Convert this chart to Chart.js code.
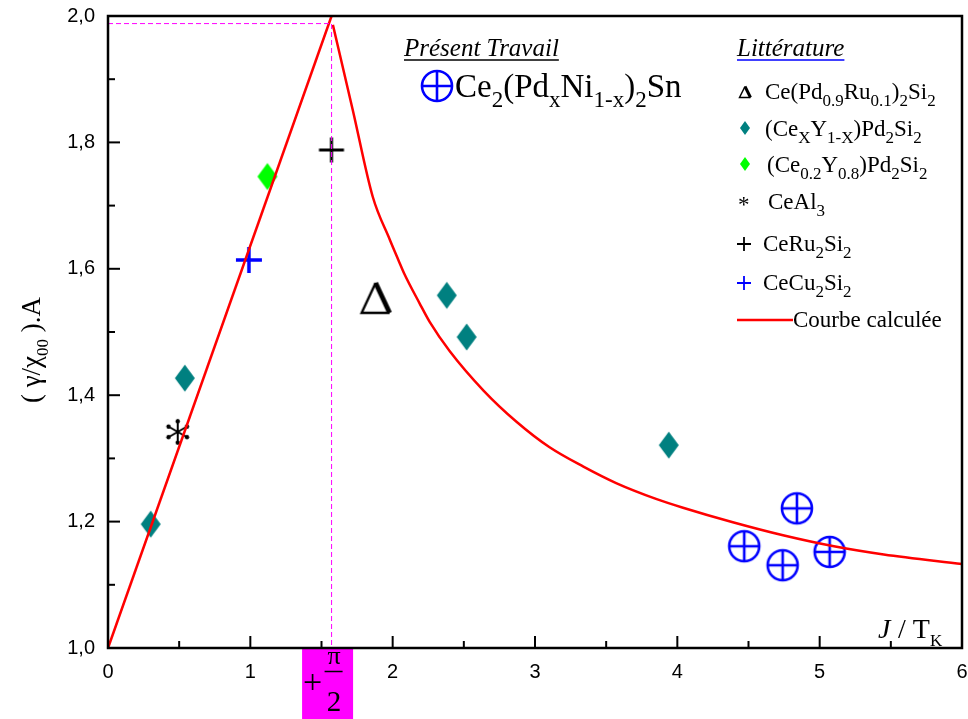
<!DOCTYPE html>
<html>
<head>
<meta charset="utf-8">
<script src="https://cdn.jsdelivr.net/npm/chart.js@4.4.0/dist/chart.umd.min.js"></script>
<style>
  html, body { margin: 0; padding: 0; background: #fff; }
</style>
</head>
<body>
<canvas id="chart" width="968" height="719"></canvas>
<script>
// --- Données : présent travail ---
const presentX = [4.47, 4.74, 4.84, 5.07];
const presentY = [1.161, 1.131, 1.221, 1.152];

// --- Données : littérature ---
const pdRuX = [1.88];
const pdRuY = [1.554];
const ceYX = [0.30, 0.54, 2.38, 2.52, 3.94];
const ceYY = [1.196, 1.427, 1.558, 1.492, 1.321];
const ce02X = [1.12];
const ce02Y = [1.746];
const ceAlX = [0.49];
const ceAlY = [1.342];
const ceRuX = [1.57];
const ceRuY = [1.788];
const ceCuX = [0.99];
const ceCuY = [1.614];

// --- Courbe calculée (branche montante + branche descendante) ---
const montanteX = [0, 1.5708];
const montanteY = [1.0, 2.0];
const descX = [1.58, 1.72, 1.86, 1.98, 2.04, 2.08, 2.19, 2.26, 2.40, 2.64, 2.87, 3.10, 3.34, 3.57, 3.85, 4.04, 4.39, 4.75, 5.10, 5.45, 6.0];
const descY = [1.986, 1.851, 1.714, 1.646, 1.614, 1.593, 1.545, 1.516, 1.470, 1.407, 1.358, 1.318, 1.287, 1.261, 1.236, 1.222, 1.199, 1.178, 1.161, 1.148, 1.133];

// repères pointillés (J/Tk = pi/2)
const repereX = [0, 1.5708, 1.5708];
const repereY = [1.988, 1.988, 1.0];

// ticks
const xTicks = [0, 1, 2, 3, 4, 5, 6];
const yTicks = [1.0, 1.2, 1.4, 1.6, 1.8, 2.0];

const pts = (xs, ys) => xs.map((x, i) => ({ x: x, y: ys[i] }));

// --- symboles dessinés sur canvas ---
function marqueur(w, h, dessin) {
    const c = document.createElement('canvas');
    c.width = w; c.height = h;
    dessin(c.getContext('2d'), w, h);
    return c;
}

function dessineCerclePlus(g, cx, cy, r, lw) {
    g.strokeStyle = '#0000ff';
    g.lineWidth = lw;
    g.beginPath(); g.arc(cx, cy, r, 0, Math.PI * 2); g.stroke();
    g.beginPath();
    g.moveTo(cx - r, cy); g.lineTo(cx + r, cy);
    g.moveTo(cx, cy - r); g.lineTo(cx, cy + r);
    g.stroke();
}
function dessineLosange(g, cx, cy, w, h, col) {
    g.fillStyle = col;
    g.beginPath();
    g.moveTo(cx, cy - h / 2); g.lineTo(cx + w / 2, cy);
    g.lineTo(cx, cy + h / 2); g.lineTo(cx - w / 2, cy);
    g.closePath(); g.fill();
}
function dessinePlus(g, cx, cy, r, lw, col) {
    g.strokeStyle = col; g.lineWidth = lw;
    g.beginPath();
    g.moveTo(cx - r, cy); g.lineTo(cx + r, cy);
    g.moveTo(cx, cy - r); g.lineTo(cx, cy + r);
    g.stroke();
}
function dessineDelta(g, cx, cy, w, h, lw) {
    g.strokeStyle = '#000'; g.lineJoin = 'miter';
    const top = cy - h / 2, bot = cy + h / 2;
    g.lineWidth = lw * 0.8;
    g.beginPath();
    g.moveTo(cx, top); g.lineTo(cx - w / 2, bot); g.lineTo(cx + w / 2, bot);
    g.stroke();
    g.lineWidth = lw * 1.6;
    g.beginPath();
    g.moveTo(cx + w / 2, bot); g.lineTo(cx, top);
    g.stroke();
}
function dessineEtoile(g, cx, cy, r, lw) {
    g.strokeStyle = '#000'; g.fillStyle = '#000'; g.lineWidth = lw;
    [90, 30, -30].forEach(a => {
        const dx = Math.cos(a * Math.PI / 180) * r, dy = Math.sin(a * Math.PI / 180) * r;
        g.beginPath(); g.moveTo(cx - dx, cy - dy); g.lineTo(cx + dx, cy + dy); g.stroke();
        g.beginPath(); g.arc(cx + dx * 0.85, cy + dy * 0.85, lw * 1.1, 0, Math.PI * 2); g.fill();
        g.beginPath(); g.arc(cx - dx * 0.85, cy - dy * 0.85, lw * 1.1, 0, Math.PI * 2); g.fill();
    });
}

const mCerclePlus = marqueur(36, 36, (g) => dessineCerclePlus(g, 18, 18, 15, 2.6));
const mLosangeBleu = marqueur(22, 30, (g) => dessineLosange(g, 11, 15, 20, 27, '#008080'));
const mLosangeVert = marqueur(22, 30, (g) => dessineLosange(g, 11, 15, 20, 27, '#00ff00'));
const mPlusNoir = marqueur(30, 30, (g) => dessinePlus(g, 15, 15, 12.5, 3, '#000'));
const mPlusBleu = marqueur(30, 30, (g) => dessinePlus(g, 15, 15, 13, 3.5, '#0000ff'));
const mDelta = marqueur(36, 36, (g) => dessineDelta(g, 18, 18, 28, 30, 3));
const mEtoile = marqueur(30, 30, (g) => dessineEtoile(g, 15, 15, 12.5, 2));

// texte avec indices
function texteRiche(ctx, x, y, parts, taille, tailleSub, align) {
    const fN = taille + 'px "Liberation Serif"';
    const fS = tailleSub + 'px "Liberation Serif"';
    let w = 0;
    parts.forEach(([t, sub]) => { ctx.font = sub ? fS : fN; w += ctx.measureText(t).width; });
    let cx = align === 'center' ? x - w / 2 : x;
    ctx.textAlign = 'left';
    ctx.textBaseline = 'alphabetic';
    parts.forEach(([t, sub]) => {
        ctx.font = sub ? fS : fN;
        ctx.fillText(t, cx, sub ? y + taille * 0.3 : y);
        cx += ctx.measureText(t).width;
    });
    return w;
}

function titreSouligne(ctx, txt, x, y) {
    ctx.font = 'italic 25px "Liberation Serif"';
    ctx.textAlign = 'left'; ctx.textBaseline = 'alphabetic';
    ctx.fillText(txt, x, y);
    const w = ctx.measureText(txt).width;
    ctx.lineWidth = 1.5;
    ctx.beginPath(); ctx.moveTo(x, y + 4); ctx.lineTo(x + w, y + 4); ctx.stroke();
}

// cadre, graduations internes, titres, légende
const habillage = {
    id: 'habillage',
    afterDraw(chart) {
        const ctx = chart.ctx;
        const xs = chart.scales.x, ys = chart.scales.y;
        const a = chart.chartArea;
        ctx.save();
        ctx.strokeStyle = '#000';
        ctx.fillStyle = '#000';

        // case magenta pour pi/2
        const px = xs.getPixelForValue(Math.PI / 2);
        ctx.fillStyle = '#ff00ff';
        ctx.fillRect(px - 29.5, a.bottom, 51, 719 - a.bottom);
        ctx.fillStyle = '#000';
        ctx.textAlign = 'center'; ctx.textBaseline = 'middle';
        ctx.font = '34px "Liberation Serif"';
        ctx.fillText('+', px - 19, 684);
        ctx.font = '26px "Liberation Serif"';
        ctx.fillText('\u03c0', px + 2.5, 657);
        ctx.font = '29px "Liberation Serif"';
        ctx.fillText('2', px + 2.5, 703);
        ctx.lineWidth = 1.5;
        ctx.beginPath(); ctx.moveTo(px - 7, 671.5); ctx.lineTo(px + 11, 671.5); ctx.stroke();

        // graduations vers l'intérieur
        ctx.lineWidth = 2;
        for (let v = 0; v <= 6.001; v += 0.5) {
            const p = xs.getPixelForValue(v);
            const L = Math.abs(v - Math.round(v)) < 1e-6 ? 12 : 7;
            ctx.beginPath(); ctx.moveTo(p, a.bottom); ctx.lineTo(p, a.bottom - L); ctx.stroke();
        }
        for (let i = 0; i <= 10; i++) {
            const v = 1 + i * 0.1;
            const p = ys.getPixelForValue(v);
            const L = i % 2 === 0 ? 12 : 7;
            ctx.beginPath(); ctx.moveTo(a.left, p); ctx.lineTo(a.left + L, p); ctx.stroke();
        }

        // cadre
        ctx.lineWidth = 2.5;
        ctx.strokeRect(a.left, a.top, a.right - a.left, a.bottom - a.top);

        // titre axe Y
        ctx.save();
        ctx.translate(31, 350);
        ctx.rotate(-Math.PI / 2);
        texteRiche(ctx, 0, 9, [['( \u03b3/\u03c7'], ['00', 1], [' ).A']], 27, 17, 'center');
        ctx.restore();

        // titre axe X
        ctx.font = 'italic 28px "Liberation Serif"';
        ctx.textAlign = 'left'; ctx.textBaseline = 'alphabetic';
        ctx.fillText('J', 878, 638);
        texteRiche(ctx, 898, 638, [['/ T'], ['K', 1]], 28, 17, 'left');

        // légende : présent travail
        titreSouligne(ctx, 'Présent Travail', 404, 56);
        dessineCerclePlus(ctx, 437, 86, 15, 2.6);
        ctx.fillStyle = '#000';
        texteRiche(ctx, 455, 97, [['Ce'], ['2', 1], ['(Pd'], ['x', 1], ['Ni'], ['1-x', 1], [')'], ['2', 1], ['Sn']], 33, 23, 'left');

        // légende : littérature
        titreSouligne(ctx, 'Littérature', 737, 56);
        const sz = 23, ss = 17;
        dessineDelta(ctx, 745, 92, 11, 11, 1.8);
        texteRiche(ctx, 765, 99, [['Ce(Pd'], ['0.9', 1], ['Ru'], ['0.1', 1], [')'], ['2', 1], ['Si'], ['2', 1]], sz, ss, 'left');
        dessineLosange(ctx, 745, 128, 10, 14, '#008080');
        ctx.fillStyle = '#000';
        texteRiche(ctx, 765, 136, [['(Ce'], ['X', 1], ['Y'], ['1-X', 1], [')Pd'], ['2', 1], ['Si'], ['2', 1]], sz, ss, 'left');
        dessineLosange(ctx, 745, 164, 10, 14, '#00ff00');
        ctx.fillStyle = '#000';
        texteRiche(ctx, 767, 172, [['(Ce'], ['0.2', 1], ['Y'], ['0.8', 1], [')Pd'], ['2', 1], ['Si'], ['2', 1]], sz, ss, 'left');
        ctx.font = '23px "Liberation Serif"';
        ctx.fillText('*', 738, 212);
        texteRiche(ctx, 768, 209, [['CeAl'], ['3', 1]], sz, ss, 'left');
        dessinePlus(ctx, 744, 244, 7, 1.8, '#000');
        ctx.fillStyle = '#000';
        texteRiche(ctx, 763, 251, [['CeRu'], ['2', 1], ['Si'], ['2', 1]], sz, ss, 'left');
        dessinePlus(ctx, 744, 283, 7, 1.8, '#0000ff');
        ctx.fillStyle = '#000';
        texteRiche(ctx, 763, 290, [['CeCu'], ['2', 1], ['Si'], ['2', 1]], sz, ss, 'left');
        ctx.strokeStyle = '#ff0000'; ctx.lineWidth = 2.5;
        ctx.beginPath(); ctx.moveTo(737, 320); ctx.lineTo(793, 320); ctx.stroke();
        ctx.font = '23px "Liberation Serif"';
        ctx.fillText('Courbe calculée', 793, 327);

        ctx.restore();
    }
};

const nuage = (data, style) => ({
    type: 'scatter', data: data, pointStyle: style, pointRadius: 12,
    showLine: false, borderColor: 'transparent', backgroundColor: 'transparent'
});

new Chart(document.getElementById('chart'), {
    type: 'scatter',
    data: {
        datasets: [
            { type: 'line', data: pts(repereX, repereY), borderColor: '#ff00ff', borderWidth: 1,
              borderDash: [5, 3], pointRadius: 0, fill: false, tension: 0 },
            { type: 'line', data: pts(montanteX, montanteY), borderColor: '#ff0000', borderWidth: 2.5,
              pointRadius: 0, fill: false, tension: 0, clip: 4 },
            { type: 'line', data: pts(descX, descY), borderColor: '#ff0000', borderWidth: 2.5,
              pointRadius: 0, fill: false, cubicInterpolationMode: 'monotone', clip: 4 },
            nuage(pts(ceYX, ceYY), mLosangeBleu),
            nuage(pts(ce02X, ce02Y), mLosangeVert),
            nuage(pts(ceAlX, ceAlY), mEtoile),
            nuage(pts(ceRuX, ceRuY), mPlusNoir),
            nuage(pts(ceCuX, ceCuY), mPlusBleu),
            nuage(pts(pdRuX, pdRuY), mDelta),
            nuage(pts(presentX, presentY), mCerclePlus)
        ]
    },
    options: {
        responsive: false,
        animation: false,
        layout: { autoPadding: false, padding: { top: 16, right: 6, left: 0, bottom: 0 } },
        plugins: { legend: { display: false }, tooltip: { enabled: false } },
        scales: {
            x: {
                type: 'linear', min: 0, max: 6,
                afterFit: (s) => { s.height = 71; s.paddingLeft = 0; s.paddingRight = 0; },
                afterBuildTicks: (s) => { s.ticks = xTicks.map(v => ({ value: v })); },
                grid: { display: false, drawTicks: false },
                border: { display: false },
                ticks: {
                    padding: 12, color: '#000', maxRotation: 0,
                    font: { family: '"Liberation Sans", Arial', size: 20 },
                    callback: (v) => String(v)
                }
            },
            y: {
                type: 'linear', min: 1, max: 2,
                afterFit: (s) => { s.width = 108; s.paddingTop = 0; s.paddingBottom = 0; },
                afterBuildTicks: (s) => { s.ticks = yTicks.map(v => ({ value: v })); },
                grid: { display: false, drawTicks: false },
                border: { display: false },
                ticks: {
                    padding: 13, color: '#000',
                    font: { family: '"Liberation Sans", Arial', size: 20 },
                    callback: (v) => Number(v).toFixed(1).replace('.', ',')
                }
            }
        }
    },
    plugins: [habillage]
});
</script>
</body>
</html>
